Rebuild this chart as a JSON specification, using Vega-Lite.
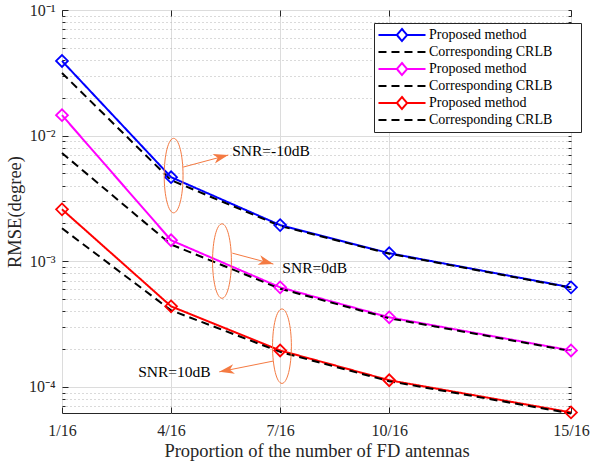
{
  "$schema": "https://vega.github.io/schema/vega-lite/v6.json",
  "width": 509,
  "height": 403,
  "autosize": {"type": "none"},
  "padding": {"left": 62, "top": 10, "right": 20, "bottom": 48},
  "background": "white",
  "config": {
    "font": "Liberation Serif",
    "view": {"stroke": "#262626", "strokeWidth": 1},
    "axis": {
      "labelFont": "Liberation Serif",
      "titleFont": "Liberation Serif",
      "labelFontSize": 16,
      "titleFontSize": 18.5,
      "titleFontWeight": "normal",
      "labelColor": "#262626",
      "titleColor": "#262626",
      "domain": false,
      "tickColor": "#262626",
      "labelFlush": false,
      "labelOverlap": false
    },
    "legend": {
      "orient": "none",
      "legendX": 312,
      "legendY": 13,
      "strokeColor": "#262626",
      "fillColor": "white",
      "padding": 5,
      "labelFont": "Liberation Serif",
      "labelFontSize": 14,
      "labelColor": "#000000",
      "symbolSize": 144,
      "symbolStrokeWidth": 2,
      "symbolOffset": 16,
      "labelOffset": 20,
      "rowPadding": 0,
      "symbolFillColor": "transparent"
    }
  },
  "datasets": {
    "curves": [
      {"n": 1, "rmse": 0.0393, "series": "Proposed method|-10dB"},
      {"n": 4, "rmse": 0.00467, "series": "Proposed method|-10dB"},
      {"n": 7, "rmse": 0.00194, "series": "Proposed method|-10dB"},
      {"n": 10, "rmse": 0.00116, "series": "Proposed method|-10dB"},
      {"n": 15, "rmse": 0.00062, "series": "Proposed method|-10dB"},
      {"n": 1, "rmse": 0.0315, "series": "Corresponding CRLB|-10dB"},
      {"n": 4, "rmse": 0.00442, "series": "Corresponding CRLB|-10dB"},
      {"n": 7, "rmse": 0.00191, "series": "Corresponding CRLB|-10dB"},
      {"n": 10, "rmse": 0.00115, "series": "Corresponding CRLB|-10dB"},
      {"n": 15, "rmse": 0.000615, "series": "Corresponding CRLB|-10dB"},
      {"n": 1, "rmse": 0.01455, "series": "Proposed method|0dB"},
      {"n": 4, "rmse": 0.00147, "series": "Proposed method|0dB"},
      {"n": 7, "rmse": 0.00062, "series": "Proposed method|0dB"},
      {"n": 10, "rmse": 0.000358, "series": "Proposed method|0dB"},
      {"n": 15, "rmse": 0.000195, "series": "Proposed method|0dB"},
      {"n": 1, "rmse": 0.00727, "series": "Corresponding CRLB|0dB"},
      {"n": 4, "rmse": 0.00136, "series": "Corresponding CRLB|0dB"},
      {"n": 7, "rmse": 0.000605, "series": "Corresponding CRLB|0dB"},
      {"n": 10, "rmse": 0.000352, "series": "Corresponding CRLB|0dB"},
      {"n": 15, "rmse": 0.000193, "series": "Corresponding CRLB|0dB"},
      {"n": 1, "rmse": 0.00259, "series": "Proposed method|10dB"},
      {"n": 4, "rmse": 0.000438, "series": "Proposed method|10dB"},
      {"n": 7, "rmse": 0.000195, "series": "Proposed method|10dB"},
      {"n": 10, "rmse": 0.000113, "series": "Proposed method|10dB"},
      {"n": 15, "rmse": 0.0000627, "series": "Proposed method|10dB"},
      {"n": 1, "rmse": 0.00183, "series": "Corresponding CRLB|10dB"},
      {"n": 4, "rmse": 0.000407, "series": "Corresponding CRLB|10dB"},
      {"n": 7, "rmse": 0.00019, "series": "Corresponding CRLB|10dB"},
      {"n": 10, "rmse": 0.000111, "series": "Corresponding CRLB|10dB"},
      {"n": 15, "rmse": 0.0000615, "series": "Corresponding CRLB|10dB"}
    ],
    "notes": [
      {"kind": "ellipse", "x": 4.07, "y": 0.00481},
      {"kind": "ellipse", "x": 5.40, "y": 0.001004},
      {"kind": "ellipse", "x": 7.05, "y": 0.000211},
      {"kind": "arrow", "id": "a1", "x": 4.334, "y": 0.00562, "x2": 5.574, "y2": 0.00701},
      {"kind": "arrow", "id": "a2", "x": 5.684, "y": 0.001161, "x2": 6.814, "y2": 0.00095},
      {"kind": "arrow", "id": "a3", "x": 6.806, "y": 0.0001605, "x2": 5.326, "y2": 0.0001318},
      {"kind": "label", "text": "SNR=-10dB", "x": 5.68, "y": 0.00754},
      {"kind": "label", "text": "SNR=0dB", "x": 7.06, "y": 0.000883},
      {"kind": "label", "text": "SNR=10dB", "x": 3.094, "y": 0.000131}
    ]
  },
  "layer": [
    {
      "data": {"name": "curves"},
      "transform": [{"filter": "indexof(datum.series, 'Proposed') == 0"}],
      "mark": {"type": "line", "strokeWidth": 2},
      "encoding": {
        "x": {"field": "n", "type": "quantitative", "scale": {"domain": [1, 15], "nice": false, "zero": false},
          "axis": {"orient": "bottom", "values": [1, 4, 7, 10, 15], "labelExpr": "datum.value + '/16'", "title": "Proportion of the number of FD antennas", "grid": true, "gridColor": "#dcdcdc", "ticks": true, "tickSize": -6, "labelPadding": 15, "titlePadding": 3}},
        "y": {"field": "rmse", "type": "quantitative", "scale": {"type": "log", "domain": [0.000062, 0.1], "nice": false},
          "axis": {"orient": "left", "values": [0.0001, 0.001, 0.01, 0.1], "labelExpr": "datum.value > 0.05 ? '10⁻¹' : datum.value > 0.005 ? '10⁻²' : datum.value > 0.0005 ? '10⁻³' : '10⁻⁴'", "title": "RMSE(degree)", "grid": true, "gridColor": "#dcdcdc", "ticks": true, "tickSize": -6, "labelPadding": 13, "titlePadding": 4}},
        "color": {"field": "series", "type": "nominal", "title": null,
          "scale": {"domain": ["Proposed method|-10dB", "Corresponding CRLB|-10dB", "Proposed method|0dB", "Corresponding CRLB|0dB", "Proposed method|10dB", "Corresponding CRLB|10dB"], "range": ["#0000ff", "#000000", "#ff00ff", "#000000", "#ff0000", "#000000"]},
          "legend": {"labelExpr": "split(datum.label, '|')[0]"}},
        "strokeDash": {"field": "series", "type": "nominal", "title": null,
          "scale": {"domain": ["Proposed method|-10dB", "Corresponding CRLB|-10dB", "Proposed method|0dB", "Corresponding CRLB|0dB", "Proposed method|10dB", "Corresponding CRLB|10dB"], "range": [[1, 0], [8, 5], [1, 0], [8, 5], [1, 0], [8, 5]]},
          "legend": {"labelExpr": "split(datum.label, '|')[0]"}}
      }
    },
    {
      "data": {"name": "curves"},
      "transform": [{"filter": "indexof(datum.series, 'Corresponding') == 0"}],
      "mark": {"type": "line", "strokeWidth": 2},
      "encoding": {
        "x": {"field": "n", "type": "quantitative", "scale": {"domain": [1, 15], "nice": false, "zero": false}, "axis": null},
        "y": {"field": "rmse", "type": "quantitative", "scale": {"type": "log", "domain": [0.000062, 0.1], "nice": false}, "axis": null},
        "color": {"field": "series", "type": "nominal", "title": null,
          "scale": {"domain": ["Proposed method|-10dB", "Corresponding CRLB|-10dB", "Proposed method|0dB", "Corresponding CRLB|0dB", "Proposed method|10dB", "Corresponding CRLB|10dB"], "range": ["#0000ff", "#000000", "#ff00ff", "#000000", "#ff0000", "#000000"]},
          "legend": {"labelExpr": "split(datum.label, '|')[0]"}},
        "strokeDash": {"field": "series", "type": "nominal", "title": null,
          "scale": {"domain": ["Proposed method|-10dB", "Corresponding CRLB|-10dB", "Proposed method|0dB", "Corresponding CRLB|0dB", "Proposed method|10dB", "Corresponding CRLB|10dB"], "range": [[1, 0], [8, 5], [1, 0], [8, 5], [1, 0], [8, 5]]},
          "legend": {"labelExpr": "split(datum.label, '|')[0]"}}
      }
    },
    {
      "data": {"name": "curves"},
      "transform": [{"filter": "indexof(datum.series, 'Proposed') == 0"}],
      "mark": {"type": "point", "shape": "diamond", "filled": false, "size": 140, "strokeWidth": 1.8, "opacity": 1},
      "encoding": {
        "x": {"field": "n", "type": "quantitative", "scale": {"domain": [1, 15], "nice": false, "zero": false}, "axis": null},
        "y": {"field": "rmse", "type": "quantitative", "scale": {"type": "log", "domain": [0.000062, 0.1], "nice": false},
          "axis": {"orient": "left", "values": [0.00007, 0.00008, 0.00009, 0.0002, 0.0003, 0.0004, 0.0005, 0.0006, 0.0007, 0.0008, 0.0009, 0.002, 0.003, 0.004, 0.005, 0.006, 0.007, 0.008, 0.009, 0.02, 0.03, 0.04, 0.05, 0.06, 0.07, 0.08, 0.09], "labels": false, "title": null, "grid": true, "gridColor": "#b5b5b5", "gridDash": [1, 3], "ticks": true, "tickSize": -3}},
        "color": {"field": "series", "type": "nominal", "title": null,
          "scale": {"domain": ["Proposed method|-10dB", "Corresponding CRLB|-10dB", "Proposed method|0dB", "Corresponding CRLB|0dB", "Proposed method|10dB", "Corresponding CRLB|10dB"], "range": ["#0000ff", "#000000", "#ff00ff", "#000000", "#ff0000", "#000000"]},
          "legend": {"labelExpr": "split(datum.label, '|')[0]"}}
      }
    },
    {
      "data": {"name": "curves"},
      "transform": [{"filter": "false"}],
      "mark": {"type": "point", "filled": false, "strokeWidth": 2},
      "encoding": {
        "x": {"field": "n", "type": "quantitative", "scale": {"domain": [1, 15], "nice": false, "zero": false},
          "axis": {"orient": "top", "values": [1, 4, 7, 10, 15], "labels": false, "title": null, "grid": false, "ticks": true, "tickSize": -6}},
        "y": {"field": "rmse", "type": "quantitative", "scale": {"type": "log", "domain": [0.000062, 0.1], "nice": false},
          "axis": {"orient": "right", "values": [0.00007, 0.00008, 0.00009, 0.0001, 0.0002, 0.0003, 0.0004, 0.0005, 0.0006, 0.0007, 0.0008, 0.0009, 0.001, 0.002, 0.003, 0.004, 0.005, 0.006, 0.007, 0.008, 0.009, 0.01, 0.02, 0.03, 0.04, 0.05, 0.06, 0.07, 0.08, 0.09, 0.1], "labels": false, "title": null, "grid": false, "ticks": true, "tickSize": -3}},
        "color": {"field": "series", "type": "nominal", "title": null,
          "scale": {"domain": ["Proposed method|-10dB", "Corresponding CRLB|-10dB", "Proposed method|0dB", "Corresponding CRLB|0dB", "Proposed method|10dB", "Corresponding CRLB|10dB"], "range": ["#0000ff", "#000000", "#ff00ff", "#000000", "#ff0000", "#000000"]},
          "legend": {"labelExpr": "split(datum.label, '|')[0]"}},
        "strokeDash": {"field": "series", "type": "nominal", "title": null,
          "scale": {"domain": ["Proposed method|-10dB", "Corresponding CRLB|-10dB", "Proposed method|0dB", "Corresponding CRLB|0dB", "Proposed method|10dB", "Corresponding CRLB|10dB"], "range": [[1, 0], [8, 5], [1, 0], [8, 5], [1, 0], [8, 5]]},
          "legend": {"labelExpr": "split(datum.label, '|')[0]"}},
        "shape": {"field": "series", "type": "nominal", "title": null,
          "scale": {"domain": ["Proposed method|-10dB", "Corresponding CRLB|-10dB", "Proposed method|0dB", "Corresponding CRLB|0dB", "Proposed method|10dB", "Corresponding CRLB|10dB"],
            "range": [
              "M -3.92 0 L -0.85 0 M 0.85 0 L 3.92 0 M 0 -1 L 0.85 0 L 0 1 L -0.85 0 Z M 28.25 0",
              "M -3.92 0 L 3.92 0 M 28.25 0",
              "M -3.92 0 L -0.85 0 M 0.85 0 L 3.92 0 M 0 -1 L 0.85 0 L 0 1 L -0.85 0 Z M 28.25 0",
              "M -3.92 0 L 3.92 0 M 28.25 0",
              "M -3.92 0 L -0.85 0 M 0.85 0 L 3.92 0 M 0 -1 L 0.85 0 L 0 1 L -0.85 0 Z M 28.25 0",
              "M -3.92 0 L 3.92 0 M 28.25 0"
            ]},
          "legend": {"labelExpr": "split(datum.label, '|')[0]"}}
      }
    },
    {
      "data": {"name": "notes"},
      "transform": [{"filter": "datum.kind == 'ellipse'"}],
      "mark": {"type": "point", "shape": "M 0 -1 C 0.14 -1 0.253 -0.552 0.253 0 C 0.253 0.552 0.14 1 0 1 C -0.14 1 -0.253 0.552 -0.253 0 C -0.253 -0.552 -0.14 -1 0 -1 Z", "size": 5550, "filled": false, "strokeWidth": 1, "color": "#f47a42", "opacity": 1},
      "encoding": {
        "x": {"field": "x", "type": "quantitative", "scale": {"domain": [1, 15], "nice": false, "zero": false}, "axis": null},
        "y": {"field": "y", "type": "quantitative", "scale": {"type": "log", "domain": [0.000062, 0.1], "nice": false}, "axis": null}
      }
    },
    {
      "data": {"name": "notes"},
      "transform": [{"filter": "datum.kind == 'arrow'"}],
      "mark": {"type": "rule", "strokeWidth": 1, "color": "#f47a42"},
      "encoding": {
        "x": {"field": "x", "type": "quantitative", "scale": {"domain": [1, 15], "nice": false, "zero": false}, "axis": null},
        "y": {"field": "y", "type": "quantitative", "scale": {"type": "log", "domain": [0.000062, 0.1], "nice": false}, "axis": null},
        "x2": {"field": "x2"},
        "y2": {"field": "y2"}
      }
    },
    {
      "data": {"name": "notes"},
      "transform": [{"filter": "datum.id == 'a1'"}],
      "mark": {"type": "point", "shape": "M 0 0 L -2 -0.65 L -1.45 0 L -2 0.65 Z", "size": 225, "filled": true, "color": "#f47a42", "opacity": 1, "angle": 346},
      "encoding": {
        "x": {"field": "x2", "type": "quantitative", "scale": {"domain": [1, 15], "nice": false, "zero": false}, "axis": null},
        "y": {"field": "y2", "type": "quantitative", "scale": {"type": "log", "domain": [0.000062, 0.1], "nice": false}, "axis": null}
      }
    },
    {
      "data": {"name": "notes"},
      "transform": [{"filter": "datum.id == 'a2'"}],
      "mark": {"type": "point", "shape": "M 0 0 L -2 -0.65 L -1.45 0 L -2 0.65 Z", "size": 225, "filled": true, "color": "#f47a42", "opacity": 1, "angle": 16},
      "encoding": {
        "x": {"field": "x2", "type": "quantitative", "scale": {"domain": [1, 15], "nice": false, "zero": false}, "axis": null},
        "y": {"field": "y2", "type": "quantitative", "scale": {"type": "log", "domain": [0.000062, 0.1], "nice": false}, "axis": null}
      }
    },
    {
      "data": {"name": "notes"},
      "transform": [{"filter": "datum.id == 'a3'"}],
      "mark": {"type": "point", "shape": "M 0 0 L -2 -0.65 L -1.45 0 L -2 0.65 Z", "size": 225, "filled": true, "color": "#f47a42", "opacity": 1, "angle": 169},
      "encoding": {
        "x": {"field": "x2", "type": "quantitative", "scale": {"domain": [1, 15], "nice": false, "zero": false}, "axis": null},
        "y": {"field": "y2", "type": "quantitative", "scale": {"type": "log", "domain": [0.000062, 0.1], "nice": false}, "axis": null}
      }
    },
    {
      "data": {"name": "notes"},
      "transform": [{"filter": "datum.kind == 'label'"}],
      "mark": {"type": "text", "font": "Liberation Serif", "fontSize": 15.5, "color": "#000000", "align": "left", "baseline": "middle"},
      "encoding": {
        "x": {"field": "x", "type": "quantitative", "scale": {"domain": [1, 15], "nice": false, "zero": false}, "axis": null},
        "y": {"field": "y", "type": "quantitative", "scale": {"type": "log", "domain": [0.000062, 0.1], "nice": false}, "axis": null},
        "text": {"field": "text"}
      }
    }
  ],
  "resolve": {"axis": {"x": "independent", "y": "independent"}}
}
